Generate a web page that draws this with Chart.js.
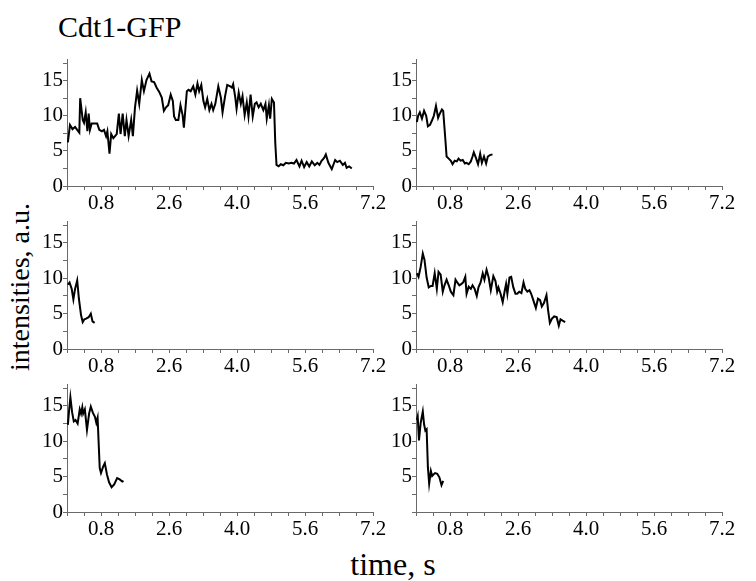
<!DOCTYPE html>
<html>
<head>
<meta charset="utf-8">
<script src="https://cdn.jsdelivr.net/npm/chart.js@4.4.1/dist/chart.umd.min.js"></script>
<style>
  body { margin: 0; background: #fff; }
  #wrap { position: relative; width: 756px; height: 581px; overflow: hidden; font-family: 'Liberation Serif', serif; color: #000; }
  .panel { position: absolute; }
  .txt { position: absolute; white-space: nowrap; line-height: 1; }
</style>
</head>
<body>
<div id="wrap">
  <div class="txt" style="left:58px; top:12px; font-size:30px;">Cdt1-GFP</div>
  <div class="txt" style="left:20px; top:287px; font-size:28px; transform: translate(-50%, -50%) rotate(-90deg);">intensities, a.u.</div>
  <div class="txt" style="left:393px; top:548px; font-size:32px; transform: translateX(-50%);">time, s</div>
</div>
<script>
// time (s) and intensity (a.u.)
const p1Time = [0.02,0.07,0.13,0.19,0.24,0.29,0.31,0.37,0.40,0.44,0.48,0.51,0.54,0.58,0.64,0.71,0.76,0.82,0.87,0.92,0.95,1.00,1.04,1.09,1.17,1.22,1.26,1.31,1.36,1.40,1.45,1.51,1.55,1.60,1.65,1.70,1.76,1.81,1.87,1.94,1.99,2.05,2.11,2.17,2.23,2.28,2.33,2.38,2.44,2.49,2.52,2.56,2.62,2.67,2.72,2.75,2.82,2.86,2.91,2.97,3.02,3.07,3.11,3.16,3.21,3.25,3.30,3.35,3.40,3.44,3.49,3.56,3.62,3.66,3.72,3.77,3.84,3.88,3.91,3.96,3.99,4.04,4.09,4.13,4.18,4.23,4.27,4.32,4.37,4.42,4.46,4.51,4.56,4.62,4.67,4.70,4.75,4.78,4.82,4.87,4.90,4.93,4.98,5.03,5.09,5.15,5.22,5.28,5.34,5.40,5.47,5.52,5.58,5.64,5.70,5.76,5.83,5.89,5.94,5.99,6.05,6.09,6.15,6.23,6.31,6.36,6.42,6.49,6.54,6.58,6.64,6.70];
const p1Value = [6.2,8.7,8.1,8.4,8.0,7.6,12.5,9.4,9.0,10.5,7.8,10.3,8.0,8.9,8.9,8.9,8.0,7.8,8.0,7.1,7.8,4.6,7.4,6.8,7.4,10.3,7.4,10.3,7.1,9.4,7.1,9.4,7.1,11.2,13.6,11.7,15.1,13.5,15.1,16.0,14.9,14.8,14.0,13.4,12.6,10.7,11.2,11.5,13.0,12.1,9.9,9.4,9.4,11.5,10.1,8.3,13.5,13.7,13.5,14.2,13.0,14.6,13.5,14.4,12.1,11.2,12.4,10.8,11.7,10.8,11.7,14.2,12.6,10.5,12.8,14.4,14.2,14.0,14.5,12.6,11.0,13.3,11.7,12.8,10.1,11.9,9.9,13.0,9.9,11.7,11.9,11.2,11.7,10.8,11.7,9.6,11.5,9.6,12.4,11.9,6.2,3.0,2.8,3.1,2.95,3.3,3.2,3.3,3.2,3.7,2.8,3.6,2.7,3.4,2.8,3.5,2.95,3.3,3.0,3.6,4.0,4.5,3.3,2.4,3.7,3.4,3.6,3.0,3.3,2.6,2.8,2.5];

const p2Time = [0.02,0.05,0.09,0.14,0.19,0.24,0.28,0.33,0.38,0.42,0.47,0.52,0.56,0.61,0.64,0.69,0.72,0.77,0.82,0.86,0.91,0.96,1.00,1.05,1.10,1.15,1.19,1.24,1.29,1.33,1.36,1.41,1.46,1.51,1.55,1.60,1.65,1.69,1.74,1.80];
const p2Value = [9.1,10.0,10.5,9.6,10.7,10.0,8.5,8.7,9.4,10.0,11.4,9.7,10.3,10.9,10.7,6.7,4.2,3.9,3.6,3.1,3.6,3.5,3.9,3.6,3.7,3.2,3.3,3.1,3.5,4.2,4.8,4.0,3.1,4.6,3.3,4.2,3.2,4.2,4.4,4.5];

const p3Time = [0.02,0.06,0.11,0.15,0.19,0.24,0.28,0.33,0.37,0.41,0.45,0.51,0.56,0.60,0.65];
const p3Value = [9.1,9.4,8.5,7.0,8.5,9.7,7.1,4.8,3.8,4.2,4.3,4.5,5.0,3.9,3.7];

const p4Time = [0.02,0.06,0.11,0.16,0.20,0.25,0.30,0.35,0.39,0.44,0.49,0.53,0.58,0.63,0.67,0.72,0.77,0.82,0.88,0.93,0.97,1.02,1.07,1.11,1.16,1.19,1.24,1.29,1.33,1.38,1.43,1.47,1.52,1.57,1.61,1.66,1.71,1.76,1.82,1.87,1.91,1.94,1.99,2.04,2.09,2.12,2.15,2.20,2.24,2.29,2.34,2.38,2.43,2.48,2.53,2.57,2.62,2.67,2.71,2.76,2.82,2.87,2.92,2.96,3.01,3.07,3.11,3.15,3.20,3.25,3.31,3.36,3.40,3.45,3.51];
const p4Value = [10.7,10.2,11.6,13.5,12.6,10.1,8.7,8.9,8.9,10.7,8.5,10.9,10.5,8.1,9.0,9.8,9.0,8.1,7.6,9.8,9.4,9.0,9.2,9.4,10.2,7.8,8.8,8.5,9.0,8.5,7.5,8.7,9.4,10.7,9.8,11.2,10.1,8.3,10.3,9.6,8.1,8.7,7.8,6.6,8.3,9.2,7.8,10.1,10.2,8.7,7.8,7.8,8.1,7.9,9.4,8.5,8.1,8.3,7.8,6.9,5.8,7.1,6.9,6.0,6.5,7.6,5.4,3.7,4.3,4.6,4.5,3.3,4.2,4.0,3.8];

const p5Time = [0.02,0.05,0.08,0.12,0.16,0.20,0.25,0.30,0.33,0.36,0.38,0.42,0.47,0.52,0.56,0.61,0.66,0.69,0.72,0.77,0.80,0.85,0.89,0.94,0.99,1.05,1.11,1.18,1.24,1.30,1.33];
const p5Value = [12.3,14.4,16.2,14.1,12.8,13.0,12.5,14.5,13.9,14.8,13.9,14.5,11.6,13.9,14.9,14.0,13.4,12.6,13.3,6.2,5.5,6.4,6.9,5.3,4.2,3.5,3.9,4.8,4.6,4.3,4.4];

const p6Time = [0.02,0.04,0.07,0.11,0.16,0.19,0.22,0.25,0.28,0.31,0.35,0.38,0.41,0.45,0.50,0.55,0.60,0.64];
const p6Value = [13.0,13.5,10.1,12.6,14.2,12.4,11.5,11.7,6.3,4.0,5.8,5.1,5.3,5.5,5.4,4.9,3.8,4.4];

// axis ticks
const xMajorTicks = [0.8, 2.4, 4.0, 5.6, 7.2];
const xTickLabels = ['0.8', '2.6', '4.0', '5.6', '7.2'];
const yMajorTicks = [0, 5, 10, 15];
const yTickLabels = ['0', '5', '10', '15'];

const panels = [
  { time: p1Time, value: p1Value, left: 67, top: 55, h: 131, zero: true },
  { time: p2Time, value: p2Value, left: 416, top: 55, h: 131, zero: true },
  { time: p3Time, value: p3Value, left: 67, top: 217, h: 132, zero: true },
  { time: p4Time, value: p4Value, left: 416, top: 217, h: 132, zero: true },
  { time: p5Time, value: p5Value, left: 67, top: 380, h: 132, zero: true },
  { time: p6Time, value: p6Value, left: 416, top: 380, h: 132, zero: false }
];

Chart.defaults.font.family = "'Liberation Serif', serif";
Chart.defaults.color = '#000';

const AXIS = '#6a6a6a';
const YW = 40, PADR = 22, PADT = 8, XH = 28, PW = 306;

function labelFor(v, ticks, labels) {
  for (let i = 0; i < ticks.length; i++) {
    if (Math.abs(ticks[i] - v) < 1e-6) return labels[i];
  }
  return '';
}

const wrap = document.getElementById('wrap');
panels.forEach(p => {
  const box = document.createElement('div');
  box.className = 'panel';
  box.style.left = (p.left - YW) + 'px';
  box.style.top = (p.top - PADT) + 'px';
  const cv = document.createElement('canvas');
  cv.width = YW + PW + PADR;
  cv.height = PADT + p.h + XH;
  box.appendChild(cv);
  wrap.appendChild(box);

  new Chart(cv.getContext('2d'), {
    type: 'line',
    data: {
      datasets: [{
        data: p.time.map((t, i) => ({ x: t, y: p.value[i] })),
        borderColor: '#000',
        borderWidth: 2,
        pointRadius: 0,
        tension: 0,
        fill: false
      }]
    },
    options: {
      responsive: false,
      animation: false,
      layout: { padding: { top: PADT, right: PADR, left: 0, bottom: 0 } },
      plugins: { legend: { display: false }, tooltip: { enabled: false } },
      scales: {
        x: {
          type: 'linear',
          min: 0,
          max: 7.2,
          afterBuildTicks: s => {
            const t = [];
            for (let k = 0; k <= 18; k++) t.push({ value: +(k * 0.4).toFixed(2) });
            s.ticks = t;
          },
          afterFit: s => { s.height = XH; },
          border: { display: true, color: AXIS, width: 1 },
          grid: { drawOnChartArea: false, drawTicks: true, tickLength: 4, tickColor: AXIS, color: AXIS },
          ticks: {
            autoSkip: false,
            maxRotation: 0,
            padding: 1,
            font: { size: 21 },
            callback: v => labelFor(v, xMajorTicks, xTickLabels)
          }
        },
        y: {
          min: 0,
          max: 18,
          afterBuildTicks: s => {
            const t = [];
            for (let k = 0; k <= 7; k++) t.push({ value: k * 2.5 });
            s.ticks = t;
          },
          afterFit: s => { s.width = YW; },
          border: { display: true, color: AXIS, width: 1 },
          grid: { drawOnChartArea: false, drawTicks: true, tickLength: 4, tickColor: AXIS, color: AXIS },
          ticks: {
            autoSkip: false,
            padding: 0,
            font: { size: 21 },
            callback: v => (v === 0 && !p.zero) ? '' : labelFor(v, yMajorTicks, yTickLabels)
          }
        }
      }
    }
  });
});
</script>
</body>
</html>
